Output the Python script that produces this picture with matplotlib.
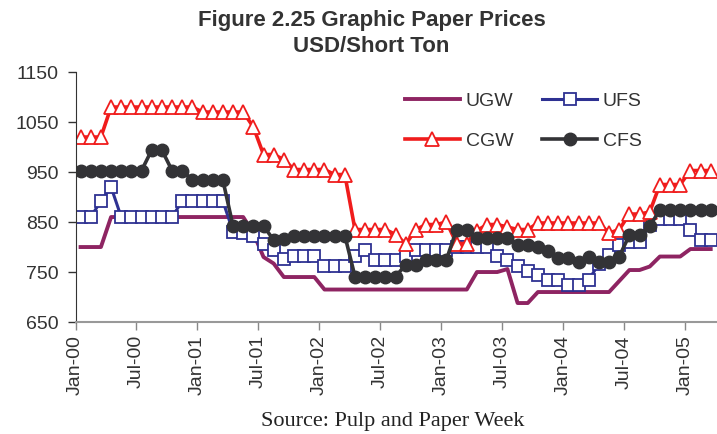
import matplotlib.pyplot as plt
import numpy as np
import pandas as pd

# monthly prices, Jan 2000 - Mar 2005 (USD per short ton)
months = pd.date_range('2000-01-01', '2005-03-01', freq='MS').strftime('%b-%y').tolist()

ugw = [800, 800, 800] + [860] * 14 + [828, 780, 767] + [740] * 4 + [715] * 15 + \
      [750, 750, 750, 756, 688, 688] + [710] * 8 + [732, 754, 754, 761, 781, 781, 781, 796, 796, 796]

ufs = [860, 860, 892, 920] + [860] * 6 + [892] * 5 + [831, 829, 823, 806, 795, 777] + \
      [783] * 3 + [762] * 3 + [783, 795, 774, 774, 774, 783] + [795] * 4 + [800] * 4 + \
      [782, 774, 762, 752, 744, 734, 734, 724, 724, 734, 767, 784, 804, 811, 811, 844,
       856, 856, 856, 834, 814, 814]

cgw = [1020] * 3 + [1080] * 9 + [1070] * 5 + [1040, 985, 985, 975] + [955] * 4 + [945, 945] + \
      [835] * 4 + [825, 806, 835, 845, 845, 850, 807, 807, 833, 845, 845, 840, 835, 835] + \
      [848] * 7 + [828, 835, 866, 866, 870, 925, 925, 925, 953, 953, 953]

cfs = [953] * 7 + [994, 994, 953, 953] + [934] * 4 + [842] * 4 + [814, 817] + [823] * 6 + \
      [741] * 5 + [765, 765, 775, 775, 775, 835, 835] + [819] * 4 + \
      [805, 805, 801, 792, 779, 779, 771, 781, 771, 771, 781, 824, 824, 842] + [874] * 6

tick_pos = np.arange(0, len(months), 6) - 0.5
tick_labels = months[::6]

plt.rcParams['font.family'] = ['Liberation Sans', 'DejaVu Sans']

fig = plt.figure(figsize=(7.17, 4.34), dpi=100)
ax = fig.add_axes([0.1053, 0.258, 0.893, 0.576])

x = np.arange(len(months))
l_ugw, = ax.plot(x, ugw, color='#8e2462', lw=2.8, label='UGW')
l_ufs, = ax.plot(x, ufs, color='#2e3192', lw=2.2, marker='s', ms=8.5,
                 mfc='white', mec='#2e3192', mew=1.3, label='UFS')
l_cgw, = ax.plot(x, cgw, color='#f01c1c', lw=2.6, marker='^', ms=10,
                 mfc='white', mec='#f01c1c', mew=1.3, label='CGW')
l_cfs, = ax.plot(x, cfs, color='#333336', lw=2.6, marker='o', ms=9,
                 mfc='#333336', mec='#333336', label='CFS')

ax.set_xlim(-0.5, len(months) - 0.5)
ax.set_ylim(650, 1150)
ax.set_yticks(np.arange(650, 1151, 100))
ax.set_xticks(tick_pos)
ax.set_xticklabels(tick_labels, rotation=90)
ax.tick_params(axis='both', labelsize=14, colors='#333333', length=6, width=1)
ax.tick_params(axis='y', pad=6)
ax.tick_params(axis='x', colors='#888888', labelcolor='#333333')

for side in ['top', 'right']:
    ax.spines[side].set_visible(False)
ax.spines['left'].set_color('#333333')
ax.spines['bottom'].set_color('#999999')
ax.spines['bottom'].set_linewidth(1.5)

ax.legend([l_ugw, l_cgw, l_ufs, l_cfs], ['UGW', 'CGW', 'UFS', 'CFS'], ncol=2,
          frameon=False, fontsize=14, handlelength=2.8, columnspacing=1.5,
          labelspacing=1.15, handletextpad=0.3, labelcolor='#333333',
          borderpad=0, borderaxespad=0,
          loc='upper left', bbox_to_anchor=(0.515, 0.92))

fig.text(0.518, 0.978, 'Figure 2.25 Graphic Paper Prices\nUSD/Short Ton', ha='center', va='top',
         fontsize=16, fontweight='bold', color='#333333', linespacing=1.35)
fig.text(0.547, 0.008, 'Source: Pulp and Paper Week', ha='center', va='bottom',
         fontsize=16, family='Liberation Serif', color='#222222')

fig.savefig('out.png', dpi=100)
